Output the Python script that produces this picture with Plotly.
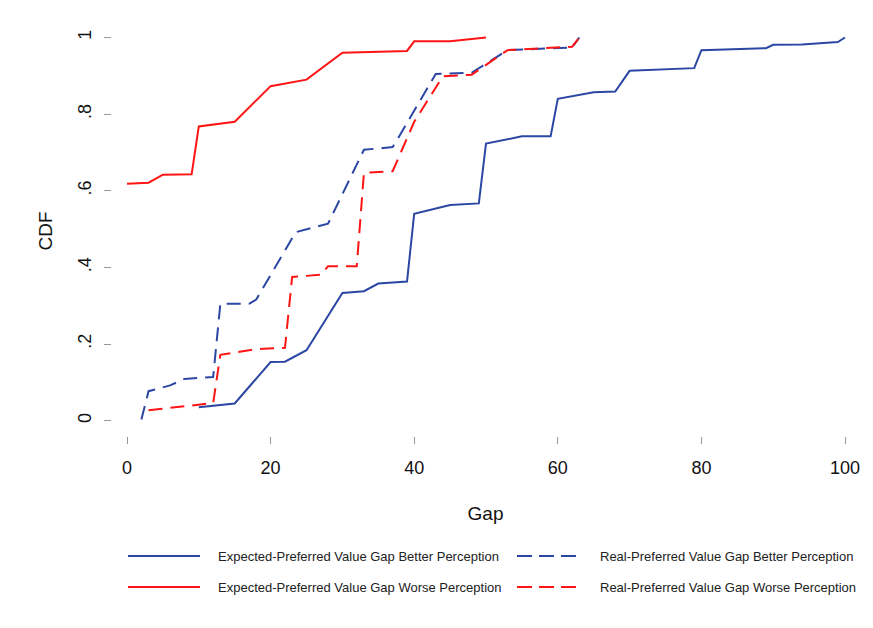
import plotly.graph_objects as go

# ---- data ----
exp_better_x = [10, 15, 20, 22, 25, 30, 33, 35, 39, 40, 45, 49, 50, 55, 59, 60, 65, 68, 70, 79, 80, 89, 90, 94, 99, 100]
exp_better_y = [0.035, 0.045, 0.153, 0.154, 0.184, 0.333, 0.338, 0.358, 0.363, 0.540, 0.563, 0.567, 0.723, 0.742, 0.742,
                0.840, 0.857, 0.859, 0.913, 0.920, 0.967, 0.972, 0.981, 0.982, 0.988, 1.0]

real_better_x = [2, 3, 6, 8, 12, 13, 17, 18, 23.5, 28, 33, 37, 38, 40, 43, 48, 53, 62, 63]
real_better_y = [0.003, 0.077, 0.092, 0.109, 0.114, 0.305, 0.305, 0.316, 0.492, 0.514, 0.707, 0.714, 0.745, 0.81, 0.905,
                 0.908, 0.967, 0.974, 1.0]

exp_worse_x = [0, 3, 5, 9, 10, 15, 20, 25, 30, 35, 39, 40, 45, 50]
exp_worse_y = [0.618, 0.621, 0.642, 0.643, 0.768, 0.780, 0.873, 0.890, 0.960, 0.963, 0.965, 0.990, 0.990, 1.0]

real_worse_x = [3, 12, 13, 17, 19, 22, 23, 27, 28, 32, 33, 37, 40, 44, 48, 53, 62, 63]
real_worse_y = [0.027, 0.046, 0.172, 0.184, 0.188, 0.190, 0.375, 0.381, 0.403, 0.403, 0.647, 0.651, 0.78, 0.899, 0.903,
                0.967, 0.976, 1.0]

series_names = [
    "Expected-Preferred Value Gap Better Perception",
    "Real-Preferred Value Gap Better Perception",
    "Expected-Preferred Value Gap Worse Perception",
    "Real-Preferred Value Gap Worse Perception",
]

x_ticks = [0, 20, 40, 60, 80, 100]
y_ticks = [0, 0.2, 0.4, 0.6, 0.8, 1]
y_tick_labels = ["0", ".2", ".4", ".6", ".8", "1"]

BLUE = "#2b47a3"
RED = "#ff1414"
DASH = "14px,8px"
FONT = "Liberation Sans, Arial, sans-serif"

fig = go.Figure()
series = [
    (exp_better_x, exp_better_y, BLUE, "solid"),
    (real_better_x, real_better_y, BLUE, DASH),
    (exp_worse_x, exp_worse_y, RED, "solid"),
    (real_worse_x, real_worse_y, RED, DASH),
]
for (xs, ys, col, dash), name in zip(series, series_names):
    fig.add_trace(go.Scatter(x=xs, y=ys, mode="lines", name=name, showlegend=False,
                             line=dict(color=col, width=2, dash=dash)))

# geometry of the plot area (pixels)
W, H = 873, 628
ML, MR, MT, MB = 112, 14, 26, 192
pw, ph = W - ML - MR, H - MT - MB


def px_to_paper(px, py):
    return (px - ML) / pw, (H - MB - py) / ph


# manual legend (2 x 2) in paper coordinates
legend_rows = [556, 587]
legend_cols = [(128, 200, 216), (517, 581, 598)]
for i, name in enumerate(series_names):
    r, c = divmod(i, 2)
    x0, x1, xt = legend_cols[c]
    yy = legend_rows[r]
    col = series[i][2]
    dash = "solid" if series[i][3] == "solid" else "15px,7px"
    a0, b0 = px_to_paper(x0, yy)
    a1, _ = px_to_paper(x1, yy)
    fig.add_shape(type="line", xref="paper", yref="paper", x0=a0, x1=a1, y0=b0, y1=b0,
                  line=dict(color=col, width=2, dash=dash))
    at, _ = px_to_paper(xt, yy)
    fig.add_annotation(xref="paper", yref="paper", x=at, y=b0, text=name, showarrow=False,
                       xanchor="left", yanchor="middle", font=dict(family=FONT, size=13, color="#222"))

fig.update_layout(
    width=W, height=H,
    margin=dict(l=ML, r=MR, t=MT, b=MB, pad=0),
    plot_bgcolor="white", paper_bgcolor="white",
    font=dict(family=FONT, color="#111"),
    xaxis=dict(range=[-2.09, 101.95], tickvals=x_ticks, ticks="outside", ticklen=7, tickcolor="#999",
               tickwidth=1, showgrid=False, zeroline=False, showline=False,
               tickfont=dict(size=18, family=FONT), ticklabelstandoff=8,
               title=dict(text="Gap", font=dict(size=19, family=FONT), standoff=30)),
    yaxis=dict(range=[-0.04, 1.03], tickvals=y_ticks, ticktext=y_tick_labels, tickangle=-90,
               ticks="outside", ticklen=7, tickcolor="#999", tickwidth=1,
               showgrid=False, zeroline=False, showline=False,
               tickfont=dict(size=18, family=FONT), ticklabelstandoff=6,
               title=dict(text="CDF", font=dict(size=19, family=FONT), standoff=17)),
)

fig.write_html("out.html")
